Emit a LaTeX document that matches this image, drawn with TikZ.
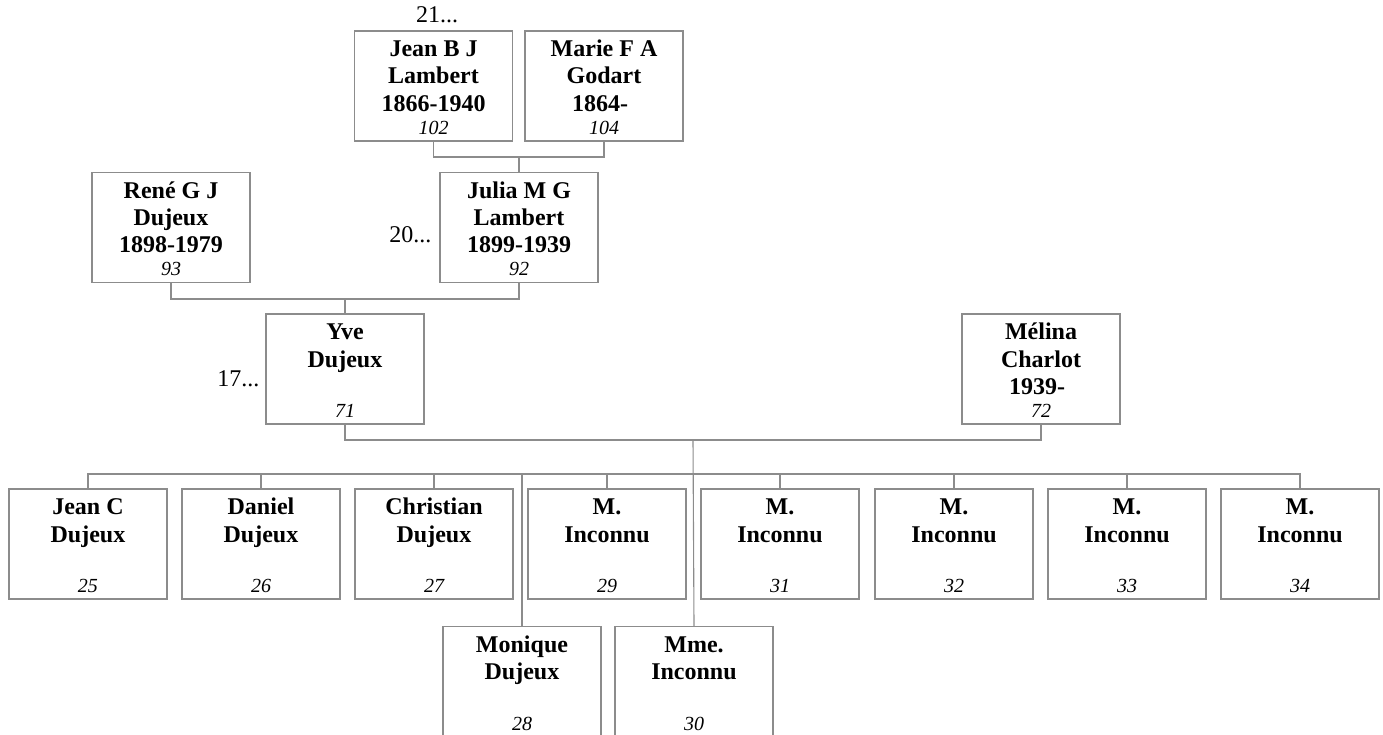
\documentclass[tikz,border=0pt]{standalone}
\usepackage{fontspec}
\setmainfont{Liberation Serif}
\definecolor{linegray}{RGB}{140,140,140}
\tikzset{
  person/.style={draw=linegray, line width=1.1pt, rectangle, minimum width=158pt,
    minimum height=110pt, inner sep=0pt, fill=white,
    font=\fontsize{24}{27.5}\selectfont},
  link/.style={draw=linegray, line width=1.1pt},
  gen/.style={font=\fontsize{24}{27.5}\selectfont, inner sep=0pt}
}
\newcommand\pers[4]{%
  \vbox to 110pt{\hsize=158pt\parindent=0pt\parskip=0pt
    \lineskiplimit=-100pt\baselineskip=27.5pt\centering
    \leavevmode\vrule height 25.5pt depth 0pt width 0pt\textbf{#1}\par
    \leavevmode\textbf{#2}\par
    \leavevmode\textbf{#3}\par
    {\fontsize{20}{23}\selectfont\itshape\leavevmode #4\par}
    \vfill}}
\newcommand\opendate[1]{#1\hspace*{8pt}}
\begin{document}
\begin{tikzpicture}[x=1pt,y=-1pt]
\useasboundingbox (0,0) rectangle (1383,735);
% ancestors
\node[person] (p102) at (433.5,86) {\pers{Jean B J}{Lambert}{1866-1940}{102}};
\node[person] (p104) at (604,86) {\pers{Marie F A}{Godart}{\opendate{1864-}}{104}};
\node[person] (p93) at (171,227.5) {\pers{René G J}{Dujeux}{1898-1979}{93}};
\node[person] (p92) at (519,227.5) {\pers{Julia M G}{Lambert}{1899-1939}{92}};
\node[person] (p71) at (345,369) {\pers{Yve}{Dujeux}{}{71}};
\node[person] (p72) at (1041,369) {\pers{Mélina}{Charlot}{\opendate{1939-}}{72}};
% children
\node[person] (p25) at (88,544) {\pers{Jean C}{Dujeux}{}{25}};
\node[person] (p26) at (261,544) {\pers{Daniel}{Dujeux}{}{26}};
\node[person] (p27) at (434,544) {\pers{Christian}{Dujeux}{}{27}};
\node[person] (p29) at (607,544) {\pers{M.}{Inconnu}{}{29}};
\node[person] (p31) at (780,544) {\pers{M.}{Inconnu}{}{31}};
\node[person] (p32) at (954,544) {\pers{M.}{Inconnu}{}{32}};
\node[person] (p33) at (1127,544) {\pers{M.}{Inconnu}{}{33}};
\node[person] (p34) at (1300,544) {\pers{M.}{Inconnu}{}{34}};
\node[person] (p28) at (522,681.5) {\pers{Monique}{Dujeux}{}{28}};
\node[person] (p30) at (694,681.5) {\pers{Mme.}{Inconnu}{}{30}};
% generation labels
\node[gen, anchor=base] (g21) at ([xshift=3.5pt,yshift=8pt]p102.north) {21...};
\node[gen, anchor=base east] (g20) at ([xshift=-8pt,yshift=-15.5pt]p92.west) {20...};
\node[gen, anchor=base east] (g17) at ([xshift=-6pt,yshift=-17pt]p71.west) {17...};
% connectors
\coordinate (c1) at (519,157);
\draw[link] (p102.south) |- (c1) -| (p104.south);
\draw[link] (c1) -- (p92.north);
\coordinate (c2) at (345,299);
\draw[link] (p93.south) |- (c2) -| (p92.south);
\draw[link] (c2) -- (p71.north);
\coordinate (c3) at (693,440);
\coordinate (bar) at (0,474);
\draw[link] (p71.south) |- (c3) -| (p72.south);
\draw[link] (p25.north) -- (p25.north |- bar) -- (p34.north |- bar) -- (p34.north);
\foreach \c in {p26,p27,p29,p31,p32,p33}{
  \draw[link] (\c.north) -- (\c.north |- bar);
}
\draw[link] (c3) -- (p30.north);
\draw[link] (p28.north) -- (p28.north |- bar);
\end{tikzpicture}
\end{document}
